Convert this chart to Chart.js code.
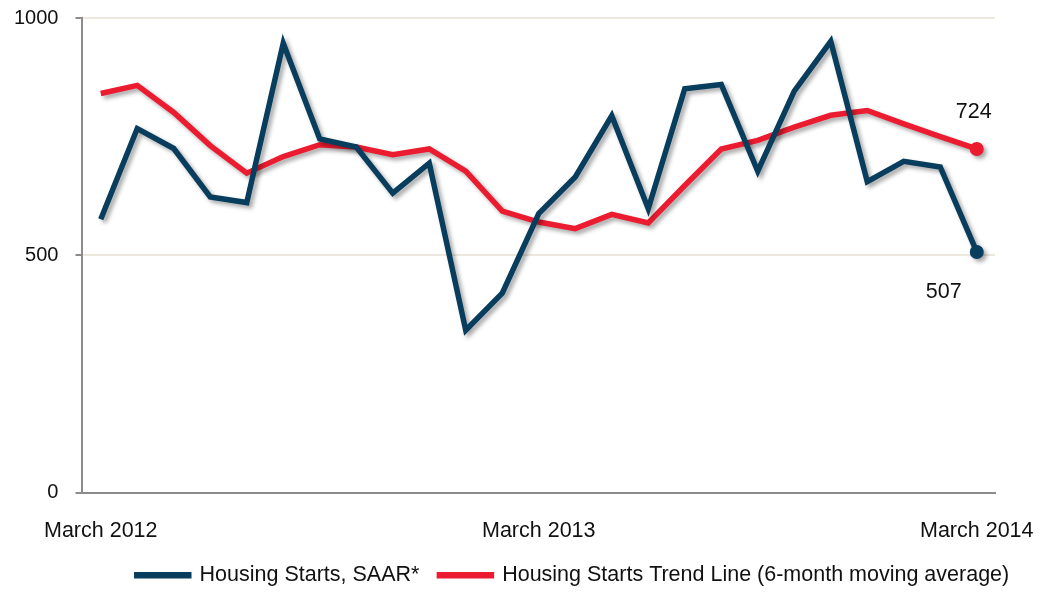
<!DOCTYPE html>
<html>
<head>
<meta charset="utf-8">
<script src="https://cdn.jsdelivr.net/npm/chart.js@4"></script>
<style>
  html, body { margin: 0; padding: 0; background: #fff; }
  #wrap { width: 1044px; height: 592px; }
</style>
</head>
<body>
<div id="wrap"><canvas id="housing"></canvas></div>
<script>
// months, March 2012 .. March 2014
const months = [
  'March 2012', 'April 2012', 'May 2012', 'June 2012', 'July 2012', 'August 2012',
  'September 2012', 'October 2012', 'November 2012', 'December 2012', 'January 2013', 'February 2013',
  'March 2013', 'April 2013', 'May 2013', 'June 2013', 'July 2013', 'August 2013',
  'September 2013', 'October 2013', 'November 2013', 'December 2013', 'January 2014', 'February 2014',
  'March 2014'
];
const xTickLabels = ['March 2012', 'March 2013', 'March 2014'];
const yTicks = [0, 500, 1000];

// Housing Starts, SAAR* (thousands)
const starts = [576, 767, 725, 623, 611, 947, 745, 728, 631, 694, 342, 420, 588, 665, 794, 598, 851, 860, 677, 846, 951, 655, 698, 686, 507];
// 6-month moving average
const trend = [841, 858, 801, 731, 673, 708, 733, 728, 712, 724, 677, 593, 570, 556, 586, 568, 647, 724, 742, 770, 795, 805, 777, 750, 724];

const navy = '#083d5d';
const red = '#eb1b30';
const fontFam = '"Liberation Sans", Arial, sans-serif';

const lastIdx = starts.length - 1;
const endRadius = (ctx) => ctx.dataIndex === lastIdx ? 7 : 0;

// soft drop shadow under the lines
const shadowPlugin = {
  id: 'shadow',
  beforeDatasetsDraw(chart) {
    const ctx = chart.ctx;
    ctx.save();
    ctx.shadowColor = 'rgba(0,0,0,0.35)';
    ctx.shadowBlur = 4;
    ctx.shadowOffsetX = 3;
    ctx.shadowOffsetY = 3;
  },
  afterDatasetsDraw(chart) {
    chart.ctx.restore();
  }
};

// end value labels (724 / 507)
const endLabels = {
  id: 'endLabels',
  afterDatasetsDraw(chart) {
    const ctx = chart.ctx;
    ctx.save();
    ctx.font = '21.5px ' + fontFam;
    ctx.fillStyle = '#111';
    ctx.textAlign = 'center';
    ctx.textBaseline = 'middle';
    const pStart = chart.getDatasetMeta(0).data[lastIdx];
    const pTrend = chart.getDatasetMeta(1).data[lastIdx];
    ctx.fillText(String(starts[lastIdx]), pStart.x - 33, pStart.y + 40);
    ctx.fillText(String(trend[lastIdx]), pTrend.x - 3, pTrend.y - 37);
    ctx.restore();
  }
};

// legend sits a bit right of centre in the original
const legendShift = {
  id: 'legendShift',
  afterLayout(chart) {
    chart.legend.left += 77;
    chart.legend.right += 77;
  }
};

Chart.defaults.font.family = fontFam;
Chart.defaults.font.size = 21.5;
Chart.defaults.color = '#111';

new Chart(document.getElementById('housing'), {
  type: 'line',
  data: {
    labels: months,
    datasets: [
      {
        label: 'Housing Starts, SAAR*',
        data: starts,
        borderColor: navy,
        backgroundColor: navy,
        borderWidth: 5.5,
        pointRadius: endRadius,
        pointHoverRadius: endRadius,
        pointBorderWidth: 0,
        tension: 0
      },
      {
        label: 'Housing Starts Trend Line (6-month moving average)',
        data: trend,
        borderColor: red,
        backgroundColor: red,
        borderWidth: 5.5,
        pointRadius: endRadius,
        pointHoverRadius: endRadius,
        pointBorderWidth: 0,
        tension: 0
      }
    ]
  },
  options: {
    responsive: true,
    maintainAspectRatio: false,
    animation: false,
    layout: { padding: { top: 18, right: 49, left: -3, bottom: -4 } },
    plugins: {
      legend: {
        position: 'bottom',
        labels: {
          boxWidth: 52,
          boxHeight: 1,
          padding: 20,
          color: '#111',
          font: { size: 21.5 }
        }
      },
      tooltip: { enabled: false }
    },
    scales: {
      x: {
        offset: true,
        grid: { display: false, drawTicks: false },
        border: { color: '#8c8c8c', width: 2 },
        afterFit(scale) {
          scale.height = 52;
          scale.paddingLeft = 0;
          scale.paddingRight = 0;
        },
        ticks: {
          autoSkip: false,
          maxRotation: 0,
          padding: 26,
          color: '#111',
          font: { size: 21.5 },
          callback: function (value, index) {
            const lbl = this.getLabelForValue(value);
            return xTickLabels.includes(lbl) ? lbl : '';
          }
        }
      },
      y: {
        min: 0,
        max: 1000,
        afterBuildTicks(axis) {
          axis.ticks = yTicks.map(v => ({ value: v }));
        },
        afterFit(scale) {
          scale.paddingTop = 0;
        },
        grid: {
          color: (c) => c.tick && c.tick.value === 0 ? 'rgba(0,0,0,0)' : '#ece8de',
          lineWidth: 2,
          tickColor: '#8c8c8c',
          tickLength: 7
        },
        border: { color: '#8c8c8c', width: 2 },
        ticks: {
          padding: 17,
          color: '#111',
          font: { size: 20 },
          callback: (v) => String(v)
        }
      }
    }
  },
  plugins: [shadowPlugin, endLabels, legendShift]
});
</script>
</body>
</html>
